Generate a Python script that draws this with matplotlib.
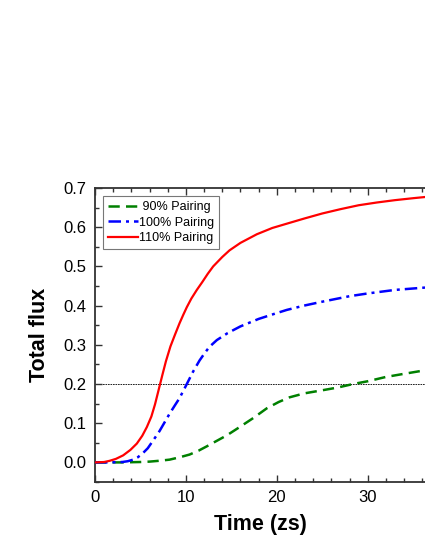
import matplotlib
matplotlib.use("Agg")
import matplotlib.pyplot as plt
from matplotlib.ticker import MultipleLocator

plt.rcParams['font.family'] = ['Liberation Sans', 'DejaVu Sans']

t90 = [0, 3, 5, 6, 7, 8.2, 9.3, 10.4, 11.4, 12.3, 13, 14.5, 15.9, 17.4, 18.9, 20.2, 21.4, 23, 25, 26.7, 28.4, 30, 32, 34, 36.3]
v90 = [0, 0, 0.001, 0.002, 0.004, 0.007, 0.013, 0.02, 0.03, 0.041, 0.05, 0.069, 0.09, 0.113, 0.138, 0.154, 0.166, 0.176, 0.184, 0.191, 0.2, 0.207, 0.218, 0.226, 0.235]

t100 = [0, 1.6, 3, 3.6, 4.2, 4.7, 5.2, 5.8, 6.4, 7.1, 7.6, 8.2, 8.8, 9.3, 10.1, 10.8, 11.5, 12.1, 12.6, 13.4, 14.6, 16, 18, 20, 21.1, 23, 25, 28, 30, 33, 36.3]
v100 = [0, 0, 0.001, 0.003, 0.007, 0.013, 0.022, 0.036, 0.056, 0.08, 0.1, 0.124, 0.146, 0.164, 0.2, 0.232, 0.26, 0.28, 0.295, 0.312, 0.33, 0.347, 0.366, 0.381, 0.389, 0.4, 0.41, 0.424, 0.431, 0.44, 0.446]

t110 = [0, 1, 1.6, 2.3, 3.1, 3.9, 4.6, 5.2, 5.7, 6.2, 6.6, 7.0, 7.4, 7.8, 8.3, 8.8, 9.3, 9.7, 10.1, 10.6, 11.2, 11.8, 12.4, 13, 14, 14.8, 16, 17.8, 19.5, 21.1, 23, 25, 27, 29, 31, 33, 35, 36.3]
v110 = [0, 0.001, 0.004, 0.009, 0.018, 0.032, 0.048, 0.068, 0.09, 0.117, 0.148, 0.185, 0.222, 0.258, 0.296, 0.326, 0.355, 0.376, 0.396, 0.418, 0.44, 0.46, 0.481, 0.5, 0.524, 0.541, 0.56, 0.582, 0.598, 0.609, 0.622, 0.635, 0.646, 0.656, 0.663, 0.669, 0.674, 0.677]

labels = [' 90% Pairing', '100% Pairing', '110% Pairing']
colors = ['#008000', '#0000ff', '#ff0000']

fig = plt.figure(figsize=(4.25, 5.5), dpi=100)
ax = fig.add_axes([95/425, 1 - 482/550, 1 - 95/425, (482 - 188)/550])

ax.axhline(0.2, color='black', lw=0.6, ls=(0, (2, 1)), zorder=1)
ax.plot(t90, v90, color=colors[0], lw=1.8, ls=(0, (4.5, 2.5)), label=labels[0], zorder=3)
ax.plot(t100, v100, color=colors[1], lw=1.8, ls=(0, (5, 2, 1.2, 2)), label=labels[1], zorder=3)
ax.plot(t110, v110, color=colors[2], lw=1.6, ls='-', label=labels[2], zorder=3)

ax.set_xlim(0, 36.3)
ax.set_ylim(-0.05, 0.7)
ax.xaxis.set_major_locator(MultipleLocator(10))
ax.xaxis.set_minor_locator(MultipleLocator(2))
ax.yaxis.set_major_locator(MultipleLocator(0.1))
ax.yaxis.set_minor_locator(MultipleLocator(0.05))
ax.yaxis.set_major_formatter(matplotlib.ticker.FormatStrFormatter('%.1f'))

ax.tick_params(which='both', direction='in', top=True, right=False, labelsize=12, width=1, colors='#333333', labelcolor='black')
ax.tick_params(which='major', length=5)
ax.tick_params(which='minor', length=3)
ax.tick_params(axis='x', pad=6)
ax.tick_params(axis='y', pad=6)
for s in ['left', 'bottom', 'top']:
    ax.spines[s].set_linewidth(1.3)
    ax.spines[s].set_color('#333333')
ax.spines['right'].set_visible(False)

ax.set_xlabel('Time (zs)', fontsize=15.5, fontweight='bold', labelpad=6)
ax.set_ylabel('Total flux', fontsize=15.5, fontweight='bold', labelpad=10)

leg = ax.legend(loc='upper left', bbox_to_anchor=(0.024, 0.973), fontsize=9, frameon=True,
                fancybox=False, edgecolor='#555555', handlelength=2.4, handletextpad=0.05,
                borderpad=0.4, labelspacing=0.3, borderaxespad=0)
leg.get_frame().set_linewidth(0.8)

fig.savefig('out.png', dpi=100)
